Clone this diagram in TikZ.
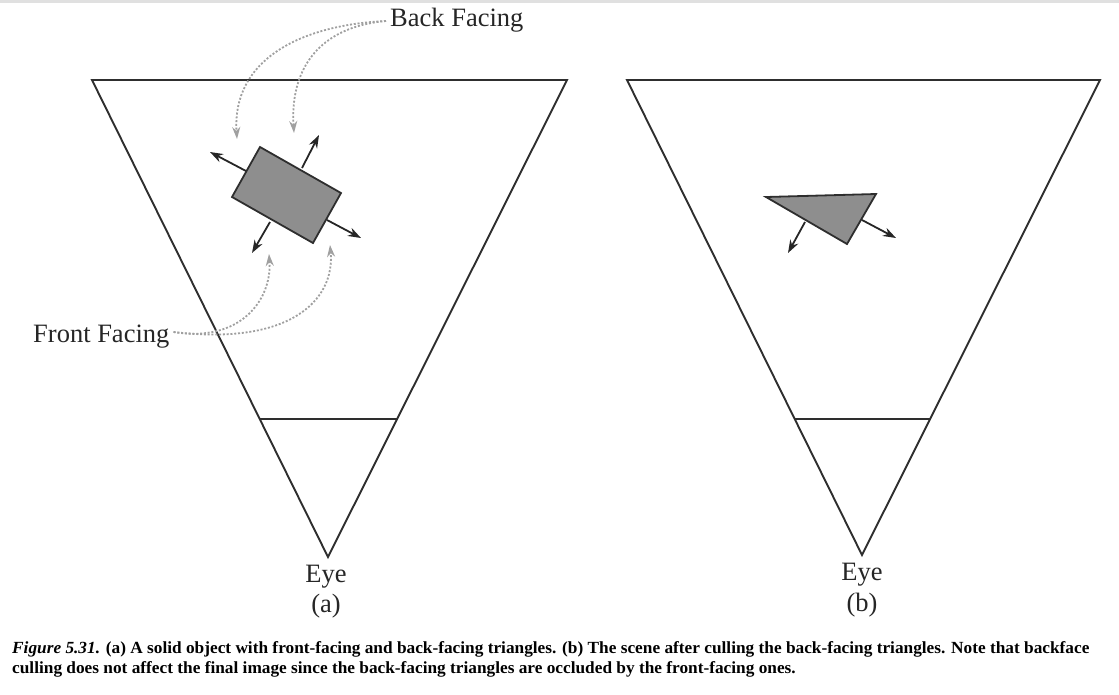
\documentclass[tikz,border=0pt]{standalone}
\usepackage{fontspec}
\setmainfont{Liberation Serif}
\usetikzlibrary{arrows.meta}
\definecolor{edge}{HTML}{2E2E2E}
\definecolor{dotc}{HTML}{A0A0A0}
\definecolor{solid}{HTML}{8E8E8E}
\tikzset{
  frame/.style={draw=edge, line width=1.9pt, line join=miter},
  body/.style={draw=edge, fill=solid, line width=1.8pt, line join=miter},
  normal/.style={draw=black!85, line width=1.8pt, -{Stealth[length=13pt,width=9pt]}},
  pointer/.style={draw=dotc, line width=1.8pt, dash pattern=on 2pt off 1.8pt, -{Stealth[length=12pt,width=8pt]}},
  lbl/.style={font=\fontsize{26.5}{28}\selectfont, text=black!85, inner sep=0pt},
  captext/.style={font=\fontsize{17}{20.5}\selectfont\bfseries, inner sep=0pt, anchor=north west, align=left, xscale=1.017}
}
\begin{document}
\begin{tikzpicture}[x=1pt,y=-1pt]
\useasboundingbox (0,0) rectangle (1119,694);
\fill[black!12] (0,0) rectangle (1119,3);
% left frustum
\draw[frame] (92,80) -- (567,80) -- (328,557) -- cycle;
\draw[frame] (259,419) -- (398,419);
% right frustum
\draw[frame] (627,80) -- (1100,80) -- (862,555) -- cycle;
\draw[frame] (795,419) -- (931,419);
% left object
\draw[body] (260,147) -- (341,193) -- (313,243) -- (232,197) -- cycle;
\draw[normal] (302,168) -- (319,135);
\draw[normal] (246,171) -- (210,152);
\draw[normal] (270,222) -- (252,253);
\draw[normal] (327,220) -- (361,238);
% right object
\draw[body] (766,197) -- (876,194) -- (847,244) -- cycle;
\draw[normal] (805,222) -- (788,253);
\draw[normal] (862,220) -- (896,238);
% labels
\node[lbl, anchor=west] (bf) at (390,20) {Back Facing};
\node[lbl, anchor=west] (ff) at (33,337) {Front Facing};
\coordinate (bt1) at (237,139);
\coordinate (bt2) at (294,133);
\coordinate (ft1) at (269,254);
\coordinate (ft2) at (330,245);
\draw[pointer] ([xshift=-4pt,yshift=-1pt]bf.west) .. controls (300,25) and (232,60) .. (bt1);
\draw[pointer] ([xshift=-4pt,yshift=-1pt]bf.west) .. controls (318,27) and (290,70) .. (bt2);
\draw[pointer] ([xshift=4pt,yshift=5pt]ff.east) .. controls (240,343) and (272,300) .. (ft1);
\draw[pointer] ([xshift=4pt,yshift=5pt]ff.east) .. controls (290,346) and (335,300) .. (ft2);
\node[lbl] (eyea) at (326,577) {Eye};
\node[lbl] (pa) at (326,606) {(a)};
\node[lbl] (eyeb) at (862,575) {Eye};
\node[lbl] (pb) at (862,605) {(b)};
% caption
\node[captext] (caption) at (12,641) {\textit{Figure 5.31.} (a) A solid object with front-facing and back-facing triangles. (b) The scene after culling the back-facing triangles. Note that backface\\culling does not affect the final image since the back-facing triangles are occluded by the front-facing ones.};
\end{tikzpicture}
\end{document}
